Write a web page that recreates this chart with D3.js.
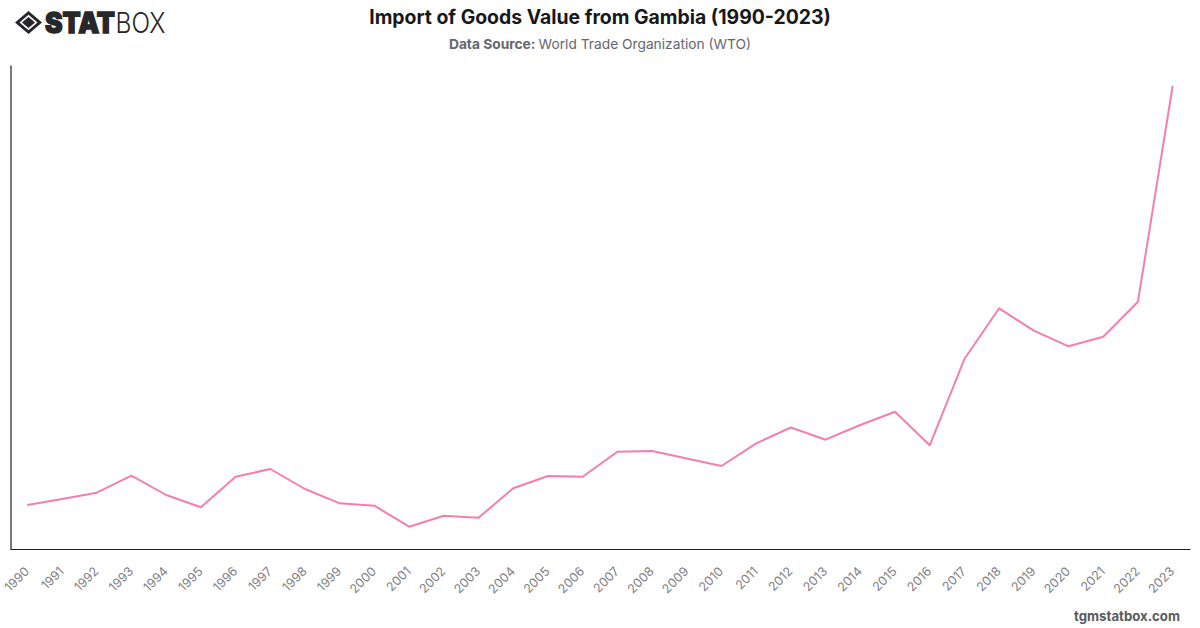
<!DOCTYPE html>
<html>
<head>
<meta charset="utf-8">
<script src="https://cdn.jsdelivr.net/npm/d3@7"></script>
<style>
  html, body { margin: 0; padding: 0; background: #fff; }
  svg { display: block; }
  text { font-family: Inter, "Liberation Sans", sans-serif; }
</style>
</head>
<body>
<svg id="chart" width="1200" height="628"></svg>
<script>
const years = d3.range(1990, 2024).map(String);
// Import value, read in axis units above the baseline
const imports = [44, 50, 56.3, 73.3, 54, 41.7, 72.3, 80, 60, 45.7, 43.3, 22.3, 33.3, 31.3, 60.7, 73, 72.3, 97.3, 98, 90.5, 83, 105.7, 121.5, 109.3, 124, 137.3, 103.7, 190, 240.7, 218.3, 202.7, 212.3, 247.3, 463];
const yMax = 484;

const svg = d3.select("#chart");
const frame = { left: 10, right: 1190, top: 65, bottom: 549 };

const x = d3.scalePoint().domain(years).range([frame.left, frame.right]).padding(0.5);
const y = d3.scaleLinear().domain([0, yMax]).range([frame.bottom, frame.top]);

// Axes: plain dark rules, rotated year labels, no value ticks
const xAxis = svg.append("g")
  .attr("transform", `translate(0,${frame.bottom})`)
  .call(d3.axisBottom(x).tickSize(0).tickSizeOuter(0));
xAxis.select(".domain").attr("stroke", "#1f1f23").attr("stroke-width", 1.2);
xAxis.selectAll("text")
  .attr("fill", "#808086")
  .attr("font-size", 12.5)
  .attr("text-anchor", "end")
  .attr("dy", 0)
  .attr("transform", "translate(0,21) rotate(-45)");

const yAxis = svg.append("g")
  .attr("transform", `translate(${frame.left + 0.5},0)`)
  .call(d3.axisLeft(y).tickValues([]).tickSize(0).tickSizeOuter(0));
yAxis.select(".domain").attr("stroke", "#1f1f23").attr("stroke-width", 1.2);

// Import series
const line = d3.line().x((d, i) => x(years[i])).y(d => y(d));
svg.append("path")
  .datum(imports)
  .attr("d", line)
  .attr("fill", "none")
  .attr("stroke", "#f47fae")
  .attr("stroke-width", 2)
  .attr("stroke-linejoin", "round");

// Title block
svg.append("text").attr("x", 600).attr("y", 24).attr("text-anchor", "middle")
  .attr("font-size", 19.4).attr("font-weight", 700).attr("fill", "#18181b")
  .text("Import of Goods Value from Gambia (1990-2023)");
const sub = svg.append("text").attr("x", 600).attr("y", 49).attr("text-anchor", "middle")
  .attr("font-size", 13.75).attr("fill", "#66666e");
sub.append("tspan").attr("font-weight", 700).text("Data Source: ");
sub.append("tspan").text("World Trade Organization (WTO)");

// Footer credit
svg.append("text").attr("x", 1180).attr("y", 621).attr("text-anchor", "end")
  .attr("font-size", 13.2).attr("font-weight", 700).attr("fill", "#5a5a60")
  .text("tgmstatbox.com");

// Wordmark with diamond emblem
const logo = svg.append("g").attr("fill", "#27272a");
logo.append("path").attr("fill-rule", "evenodd")
  .attr("d", "M15 22.5 L28.5 11 L42 22.5 L28.5 34 Z M19.5 22.5 L28.5 30.2 L37.5 22.5 L28.5 14.8 Z");
logo.append("path").attr("d", "M22 22.5 L28.5 17 L35 22.5 L28.5 28 Z");
logo.append("text").attr("x", 45).attr("y", 32.5).attr("font-size", 28).attr("font-weight", 900)
  .attr("stroke", "#27272a").attr("stroke-width", 1.3)
  .attr("textLength", 70).attr("lengthAdjust", "spacingAndGlyphs")
  .style("font-family", "Inter, sans-serif").text("STAT");
logo.append("text").attr("x", 115.5).attr("y", 32.5).attr("font-size", 28).attr("font-weight", 300)
  .attr("textLength", 50).attr("lengthAdjust", "spacingAndGlyphs")
  .style("font-family", "Inter, sans-serif").text("BOX");
</script>
</body>
</html>
